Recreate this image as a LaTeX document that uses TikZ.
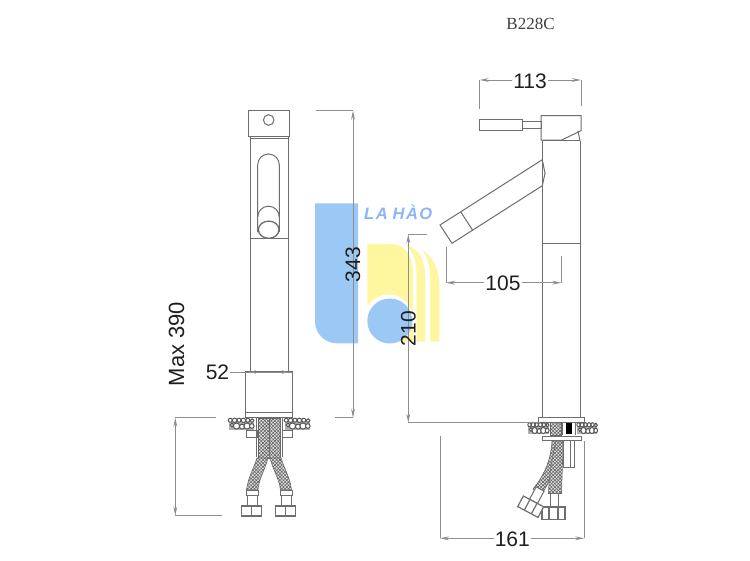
\documentclass[tikz,border=0pt]{standalone}
\usepackage{fontspec}
\setmainfont{Liberation Sans}
\newfontfamily\serifb{Liberation Serif}
\newfontfamily\logofont[LetterSpace=9]{Liberation Sans}
\usetikzlibrary{arrows.meta,patterns.meta}
\definecolor{lgblue}{HTML}{9CC8F5}
\definecolor{lgyellow}{HTML}{FFF7A0}
\definecolor{objc}{HTML}{6E6E6E}
\definecolor{dimc}{HTML}{8E8E8E}
\definecolor{txtc}{HTML}{1E1E1E}
\tikzset{
  obj/.style={draw=objc,line width=1pt,line join=miter},
  dimline/.style={draw=dimc,line width=.9pt},
  dimarrow/.style={dimline,-{Stealth[length=9pt,width=3.8pt,fill=dimc]}},
  bothtips/.style={dimline,{Stealth[length=9pt,width=3.8pt,fill=dimc]}-{Stealth[length=9pt,width=3.8pt,fill=dimc]}},
  numlabel/.style={text=txtc,font=\fontsize{21}{21}\selectfont,inner sep=1pt},
  hose/.style={draw=objc,line width=.6pt,fill=gray!22,
    postaction={pattern={Hatch[angle=45,distance=2.4pt,line width=.55pt]},pattern color=gray!75!black}},
  pebble/.style={draw=objc!80!black,line width=1pt,fill=white},
}
\newcommand{\pebblerow}{%
  \fill[gray!60] (0.5,0.5) rectangle (25.5,11.5);
  \foreach \px/\py/\pr in {2.2/2.2/2,6.6/2.3/2.2,11/2.2/2,15.4/2.3/2.2,19.8/2.2/2,24/2.6/1.9,
                           4/7/1.9,8.5/8/3.1,14/8.6/2.5,19/8/3.1,23.8/8/2.3}{
    \draw[pebble] (\px,\py) circle[radius=\pr];
  }%
}
\begin{document}
\begin{tikzpicture}[x=1pt,y=-1pt]
\useasboundingbox (0,0) rectangle (750,560);
\fill[white] (0,0) rectangle (750,560);

% ---------- logo ----------
\fill[lgblue] (315,203.3) -- (358,203.3) -- (358,343.3) -- (337,343.3)
   arc[start angle=90,end angle=180,radius=22] -- cycle;
\fill[lgyellow] (367.3,305) -- (367.3,244) -- (403,244)
   .. controls (425,244) and (439.3,262) .. (439.3,285) -- (439.3,341.7) -- (395,341.7) -- cycle;
\draw[white,line width=3.4pt] (396,243) .. controls (408,245) and (414.8,256) .. (414.8,275) -- (414.8,343);
\draw[white,line width=4.6pt] (406,243) .. controls (419,245) and (427.7,256) .. (427.7,280) -- (427.7,343);
\fill[white] (388.5,319) circle[radius=24.5];
\fill[lgblue] (389.8,321) circle[radius=22.5];
\node (logotext) [anchor=west,inner sep=0pt,text=lgblue!90!blue,font=\logofont\fontsize{16.5}{17}\bfseries\itshape\selectfont]
   at (364,212.7) {LA\hspace{5pt}HÀO};

% ---------- title ----------
\node (title) [text=txtc!85,inner sep=0pt,font=\serifb\fontsize{17}{17}\selectfont] at (530.5,24) {B228C};

% ---------- side view ----------
\draw[obj] (248.7,110.7) rectangle (289,136);
\draw[obj] (250,136) -- (250,372);
\draw[obj] (288,136) -- (288,372);
\draw[obj] (250,138) -- (288,138);
\draw[obj] (268.7,120) circle[radius=5.3];
\draw[obj] (250,238.3) -- (288,238.3);
\draw[obj] (257.7,232) -- (257.7,164.8) arc[start angle=180,end angle=360,radius=10.8] -- (279.3,232);
\draw[obj] (257.7,217) arc[start angle=180,end angle=360,radius=10.8];
\draw[obj,line width=1.3pt,fill=white] (268.7,229.7) ellipse[x radius=10.3,y radius=8.6];
\draw[obj] (245.7,371.7) rectangle (292,412);
\draw[obj] (245.7,412) rectangle (292,417.7);

% side view: under-deck parts
\draw[obj] (246,430) rectangle (257,437);
\draw[obj] (282,430) rectangle (292,437);
\draw[obj] (256,418) -- (256,457);
\draw[obj] (282.3,418) -- (282.3,457);
\path[hose] (258,418) rectangle (269,458);
\path[hose] (269.3,418) rectangle (280.3,458);
\begin{scope}[shift={(228,418)}]\pebblerow\end{scope}
\begin{scope}[shift={(284,418)}]\pebblerow\end{scope}
\path[hose] (257,458) .. controls (253,470) and (248,478) .. (246.5,490) -- (258,490)
   .. controls (259,478) and (265,470) .. (268,458) -- cycle;
\path[hose] (270,458) .. controls (273,470) and (279,478) .. (280.5,490) -- (291.5,490)
   .. controls (290,478) and (285,470) .. (281,458) -- cycle;
\draw[obj] (246,490) rectangle (258,495);
\draw[obj] (247,495) rectangle (257,506);
\draw[obj] (280,490) rectangle (292,495);
\draw[obj] (281,495) rectangle (291,506);
\draw[obj,line width=1.2pt] (241.7,506) rectangle (261.7,516);
\draw[obj,line width=1.2pt] (251.7,506) -- (251.7,516);
\draw[obj,line width=1.2pt] (275.7,506) rectangle (295.7,516);
\draw[obj,line width=1.2pt] (285.7,506) -- (285.7,516);

% ---------- front view ----------
\draw[obj] (479.7,119) rectangle (522,130.3);
\draw[obj] (522,121) rectangle (541,128.7);
\draw[obj] (541,115.7) -- (581,115.7) -- (581,130.7) -- (561.7,140) -- (541,140) -- cycle;
\draw[obj] (578,130.7) -- (580,141);
\draw[obj] (542.7,140.7) -- (580,140.7);
\draw[obj] (542.7,140.7) -- (542.7,417.3);
\draw[obj] (580,141) -- (580,417.3);
\draw[obj] (542.7,243) -- (580,243);
\draw[obj] (542.3,159.7) -- (440,225) -- (452,243.3) -- (542.3,185.7);
\draw[obj] (461,212.3) -- (472.7,230.3);
\draw[obj] (542.3,159.7) -- (545,173.3) -- (542.3,185.7);
\draw[obj] (538.3,417.3) rectangle (584,422.7);

% front view: under-deck parts
\draw[obj] (542.7,436) rectangle (581.7,440.7);
\path[hose] (550,422.7) rectangle (561.7,435.5);
\fill[black] (565.7,422.7) rectangle (571.7,434.3);
\draw[obj] (562.5,422.7) -- (562.5,435);
\draw[obj] (575,422.7) -- (575,435);
\begin{scope}[shift={(527.7,422.5)},xscale=.82]\pebblerow\end{scope}
\begin{scope}[shift={(576.7,422.5)},xscale=.8]\pebblerow\end{scope}
\draw[obj] (563.3,440.7) rectangle (574,467.3);
\draw[obj] (570,440.7) -- (570,467.3);
\path[hose] (552,441) .. controls (551,458) and (546,473) .. (533,489) -- (542,494)
   .. controls (552,478) and (558,460) .. (558,441) -- cycle;
\path[hose] (548.5,493.5) .. controls (549,475) and (552,458) .. (556,441) -- (562.5,441)
   .. controls (563,458) and (562,476) .. (561.5,493.5) -- cycle;
\draw[obj] (550,493.5) rectangle (558.5,507);
\draw[obj,line width=1.2pt] (542,507) rectangle (565,519.3);
\draw[obj,line width=1.2pt] (549,507) -- (549,519.3);
\draw[obj,line width=1.2pt] (558,507) -- (558,519.3);
\begin{scope}[shift={(536.8,495.2)},rotate=-28]
  \draw[obj,fill=white] (-4.5,-7) rectangle (4.5,7);
\end{scope}
\begin{scope}[shift={(530.7,506.7)},rotate=-28]
  \draw[obj,line width=1.2pt,fill=white] (-11.5,-6) rectangle (11.5,6);
  \draw[obj,line width=1.2pt] (-4,-6) -- (-4,6);
  \draw[obj,line width=1.2pt] (4,-6) -- (4,6);
\end{scope}

% ---------- dimensions ----------
% 343
\coordinate (d343a) at (353,110.7);
\coordinate (d343b) at (353,417.7);
\draw[dimline] (315.7,110.7) -- (d343a);
\draw[dimline] (334.7,417.7) -- (d343b);
\draw[bothtips] (d343a) -- (d343b);
\node (n343) [numlabel,rotate=90] at (353,264.5) {343};
% max 390
\coordinate (mxa) at (175.3,417.7);
\coordinate (mxb) at (175.3,515.7);
\draw[dimline] (216,417.7) -- (mxa);
\draw[dimline] (222,515.7) -- (mxb);
\draw[bothtips] (mxa) -- (mxb);
\node (n390) [numlabel,rotate=90,font=\fontsize{22}{22}\selectfont] at (176.5,344) {Max 390};
% 52
\node (n52) [numlabel] at (217.5,372) {52};
\coordinate (d52a) at (250,372);
\coordinate (d52b) at (288,372);
\draw[dimline] (n52.east) -- (d52b);
\draw[dimarrow,-{Stealth[length=6pt,width=3.4pt,fill=dimc]}] (255.5,372) -- (d52a);
\draw[dimarrow,-{Stealth[length=6pt,width=3.4pt,fill=dimc]}] (282.5,372) -- (d52b);
\draw[dimline] (288,372) -- (292,372);
% 113
\node (n113) [numlabel] at (530,81) {113};
\coordinate (d113a) at (479.7,80);
\coordinate (d113b) at (581,80);
\draw[dimarrow] (n113.west |- d113a) -- (d113a);
\draw[dimarrow] (n113.east |- d113b) -- (d113b);
\draw[dimline] (d113a) -- (479.7,109);
\draw[dimline] (d113b) -- (581,106);
% 105
\node (n105) [numlabel] at (503,283.5) {105};
\coordinate (d105a) at (446,282.7);
\coordinate (d105b) at (561.3,282.7);
\draw[dimarrow] (n105.west |- d105a) -- (d105a);
\draw[dimarrow] (n105.east |- d105b) -- (d105b);
\draw[dimline] (d105a) -- (446,246.7);
\draw[dimline] (d105b) -- (561.3,256);
% 210
\coordinate (d210a) at (408.3,234.3);
\coordinate (d210b) at (408.3,422.7);
\draw[dimline] (d210a) -- (426.7,234.3);
\draw[dimline] (d210b) -- (540,422.7);
\draw[bothtips] (d210a) -- (d210b);
\node (n210) [numlabel,rotate=90] at (408.5,328.5) {210};
% 161
\node (n161) [numlabel] at (512.3,539) {161};
\coordinate (d161a) at (440,538.3);
\coordinate (d161b) at (584.3,538.3);
\draw[dimarrow] (n161.west |- d161a) -- (d161a);
\draw[dimarrow] (n161.east |- d161b) -- (d161b);
\draw[dimline] (d161a) -- (440,435.7);
\draw[dimline] (d161b) -- (584.3,440.7);
\end{tikzpicture}
\end{document}
